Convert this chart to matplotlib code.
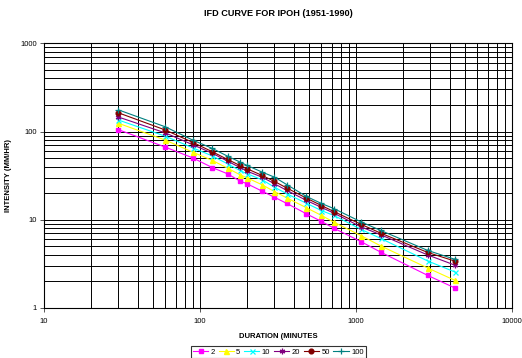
import numpy as np
import matplotlib
matplotlib.use("Agg")
import matplotlib.pyplot as plt
from matplotlib.ticker import LogLocator, NullFormatter, FixedLocator, FixedFormatter

# =========================================================================== #

duration = [30, 60, 90, 120, 150, 180, 200, 250, 300, 360, 480, 600, 720, 1080, 1440, 2880, 4320]

ari_2   = [105, 66.5, 50.2, 39.0, 33.2, 27.5, 25.6, 21.1, 18.0, 15.3, 11.7, 9.57, 8.03, 5.63, 4.29, 2.34, 1.68]
ari_5   = [124, 79.9, 58.3, 47.0, 38.5, 32.4, 29.9, 24.9, 20.9, 17.7, 13.7, 11.2, 9.4, 6.59, 5.05, 2.84, 2.05]
ari_10  = [135, 88.5, 65.2, 52.9, 43.1, 36.2, 33.2, 28.4, 23.4, 19.7, 15.4, 12.7, 11.2, 7.76, 6.14, 3.41, 2.55]
ari_20  = [146, 96.4, 70.8, 56.7, 46.2, 39.2, 35.6, 30.4, 25.6, 21.5, 16.6, 13.8, 11.9, 8.28, 6.76, 3.99, 3.05]
ari_50  = [163, 104, 75.2, 59.0, 48.3, 41.3, 37.9, 31.8, 27.2, 22.9, 17.6, 14.5, 12.4, 8.85, 7.05, 4.26, 3.39]
ari_100 = [176, 113, 79.9, 64.3, 52.6, 45.2, 41.3, 34.7, 30.4, 25.0, 18.4, 15.3, 13.4, 9.44, 7.56, 4.49, 3.55]

labels = ["2", "5", "10", "20", "50", "100"]

# =========================================================================== #

plt.rcParams['font.family'] = ['Liberation Sans', 'DejaVu Sans']

fig = plt.figure(figsize=(5.22, 3.58), dpi=100)
ax = fig.add_axes([0.0843, 0.1397, 0.8967, 0.7393])

styles = [
    dict(color="#FF00FF", marker="s", ms=3.2, mec="#FF00FF"),
    dict(color="#FFFF00", marker="^", ms=3.6, mec="#FFFF00"),
    dict(color="#00FFFF", marker="x", ms=3.6, mew=0.9),
    dict(color="#800080", marker=(6, 2, 0), ms=4.0, mew=0.9),
    dict(color="#800000", marker="o", ms=3.4, mec="#800000"),
    dict(color="#008080", marker="+", ms=4.5, mew=0.9),
]

for vals, lab, st in zip([ari_2, ari_5, ari_10, ari_20, ari_50, ari_100], labels, styles) :
    ax.plot(duration, vals, lw=0.8, label=lab, **st)

ax.set_xscale('log')
ax.set_yscale('log')
ax.set_xlim(10, 10000)
ax.set_ylim(1, 1000)

ax.xaxis.set_major_locator(FixedLocator([10, 100, 1000, 10000]))
ax.xaxis.set_major_formatter(FixedFormatter(["10", "100", "1000", "10000"]))
ax.yaxis.set_major_locator(FixedLocator([1, 10, 100, 1000]))
ax.yaxis.set_major_formatter(FixedFormatter(["1", "10", "100", "1000"]))
ax.xaxis.set_minor_locator(LogLocator(base=10, subs=np.arange(2, 10)))
ax.yaxis.set_minor_locator(LogLocator(base=10, subs=np.arange(2, 10)))
ax.xaxis.set_minor_formatter(NullFormatter())
ax.yaxis.set_minor_formatter(NullFormatter())

ax.grid(True, which='both', color='black', lw=0.7)
ax.set_axisbelow(True)
ax.tick_params(which='major', labelsize=5.5, length=3, width=0.7, color='#555555', pad=2)
ax.tick_params(axis='x', which='major', pad=4)
ax.tick_params(which='minor', length=0)
for sp in ax.spines.values() :
    sp.set_color('black')
    sp.set_linewidth(0.8)

ax.set_title("IFD CURVE FOR IPOH (1951-1990)", fontsize=6.6, fontweight='bold', pad=20)
ax.set_xlabel("DURATION (MINUTES", fontsize=5.5, fontweight='bold', labelpad=6)
ax.set_ylabel("INTENSITY (MM/HR)", fontsize=5.5, fontweight='bold')
ax.yaxis.set_label_coords(-0.068, 0.5)

leg = fig.legend(loc='lower center', bbox_to_anchor=(0.533, -0.005), ncol=6, fontsize=5.5,
                 frameon=True, fancybox=False, edgecolor='black', handlelength=2.0,
                 columnspacing=0.5, handletextpad=0.3, borderpad=0.3, borderaxespad=0.2)
leg.get_frame().set_linewidth(0.8)

fig.savefig("out.png", dpi=100)
